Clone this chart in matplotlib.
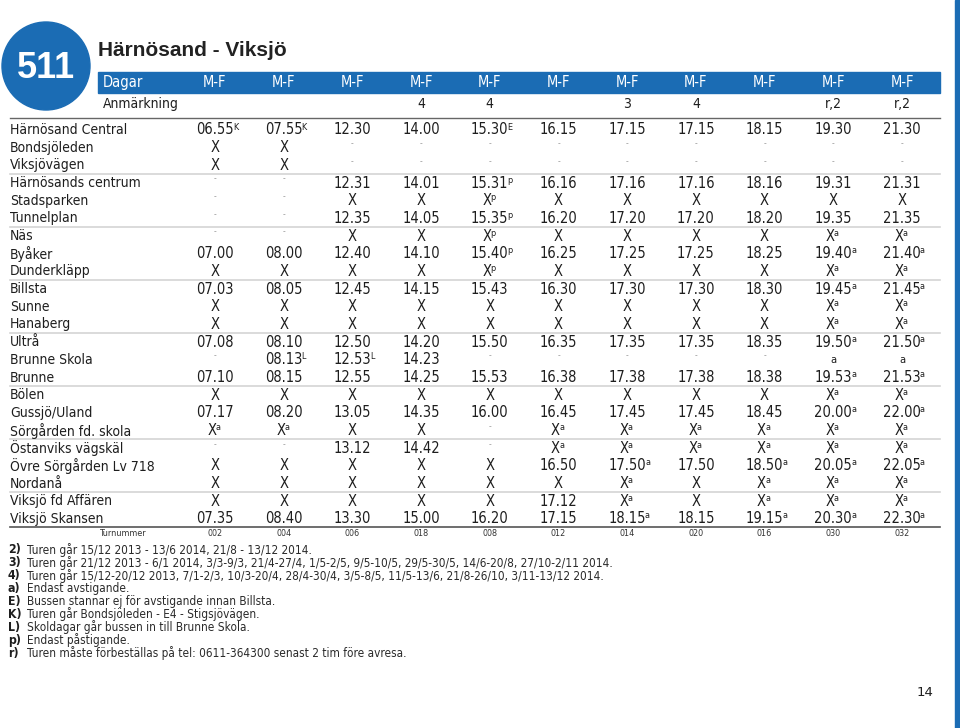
import matplotlib
matplotlib.use("Agg")
import matplotlib.pyplot as plt
from matplotlib.patches import Circle, Rectangle

# --- datos de la tabla ---
linea = "511"
titulo = "Härnösand - Viksjö"
dagar = ["M-F"] * 11
anmarkning = ["", "", "", "4", "4", "", "3", "4", "", "r,2", "r,2"]
turnummer = ["002", "004", "006", "018", "008", "012", "014", "020", "016", "030", "032"]

paradas = ["Härnösand Central", "Bondsjöleden", "Viksjövägen", "Härnösands centrum",
           "Stadsparken", "Tunnelplan", "Näs", "Byåker", "Dunderkläpp", "Billsta",
           "Sunne", "Hanaberg", "Ultrå", "Brunne Skola", "Brunne", "Bölen",
           "Gussjö/Uland", "Sörgården fd. skola", "Östanviks vägskäl",
           "Övre Sörgården Lv 718", "Nordanå", "Viksjö fd Affären", "Viksjö Skansen"]

# "hora|x" = hora con superindice x
tur_002 = ["06.55|K", "X", "X", "-", "-", "-", "-", "07.00", "X", "07.03", "X", "X",
           "07.08", "-", "07.10", "X", "07.17", "X|a", "-", "X", "X", "X", "07.35"]
tur_004 = ["07.55|K", "X", "X", "-", "-", "-", "-", "08.00", "X", "08.05", "X", "X",
           "08.10", "08.13|L", "08.15", "X", "08.20", "X|a", "-", "X", "X", "X", "08.40"]
tur_006 = ["12.30", "-", "-", "12.31", "X", "12.35", "X", "12.40", "X", "12.45", "X", "X",
           "12.50", "12.53|L", "12.55", "X", "13.05", "X", "13.12", "X", "X", "X", "13.30"]
tur_018 = ["14.00", "-", "-", "14.01", "X", "14.05", "X", "14.10", "X", "14.15", "X", "X",
           "14.20", "14.23", "14.25", "X", "14.35", "X", "14.42", "X", "X", "X", "15.00"]
tur_008 = ["15.30|E", "-", "-", "15.31|p", "X|p", "15.35|p", "X|p", "15.40|p", "X|p", "15.43",
           "X", "X", "15.50", "-", "15.53", "X", "16.00", "-", "-", "X", "X", "X", "16.20"]
tur_012 = ["16.15", "-", "-", "16.16", "X", "16.20", "X", "16.25", "X", "16.30", "X", "X",
           "16.35", "-", "16.38", "X", "16.45", "X|a", "X|a", "16.50", "X", "17.12", "17.15"]
tur_014 = ["17.15", "-", "-", "17.16", "X", "17.20", "X", "17.25", "X", "17.30", "X", "X",
           "17.35", "-", "17.38", "X", "17.45", "X|a", "X|a", "17.50|a", "X|a", "X|a", "18.15|a"]
tur_020 = ["17.15", "-", "-", "17.16", "X", "17.20", "X", "17.25", "X", "17.30", "X", "X",
           "17.35", "-", "17.38", "X", "17.45", "X|a", "X|a", "17.50", "X", "X", "18.15"]
tur_016 = ["18.15", "-", "-", "18.16", "X", "18.20", "X", "18.25", "X", "18.30", "X", "X",
           "18.35", "-", "18.38", "X", "18.45", "X|a", "X|a", "18.50|a", "X|a", "X|a", "19.15|a"]
tur_030 = ["19.30", "-", "-", "19.31", "X", "19.35", "X|a", "19.40|a", "X|a", "19.45|a", "X|a",
           "X|a", "19.50|a", "a", "19.53|a", "X|a", "20.00|a", "X|a", "X|a", "20.05|a", "X|a",
           "X|a", "20.30|a"]
tur_032 = ["21.30", "-", "-", "21.31", "X", "21.35", "X|a", "21.40|a", "X|a", "21.45|a", "X|a",
           "X|a", "21.50|a", "a", "21.53|a", "X|a", "22.00|a", "X|a", "X|a", "22.05|a", "X|a",
           "X|a", "22.30|a"]
turer = [tur_002, tur_004, tur_006, tur_018, tur_008, tur_012, tur_014, tur_020,
         tur_016, tur_030, tur_032]

fotnoter = [
    ("2)", "Turen går 15/12 2013 - 13/6 2014, 21/8 - 13/12 2014."),
    ("3)", "Turen går 21/12 2013 - 6/1 2014, 3/3-9/3, 21/4-27/4, 1/5-2/5, 9/5-10/5, 29/5-30/5, 14/6-20/8, 27/10-2/11 2014."),
    ("4)", "Turen går 15/12-20/12 2013, 7/1-2/3, 10/3-20/4, 28/4-30/4, 3/5-8/5, 11/5-13/6, 21/8-26/10, 3/11-13/12 2014."),
    ("a)", "Endast avstigande."),
    ("E)", "Bussen stannar ej för avstigande innan Billsta."),
    ("K)", "Turen går Bondsjöleden - E4 - Stigsjövägen."),
    ("L)", "Skoldagar går bussen in till Brunne Skola."),
    ("p)", "Endast påstigande."),
    ("r)", "Turen måste förbeställas på tel: 0611-364300 senast 2 tim före avresa."),
]
sida = "14"

# --- estilo ---
azul = "#1b6cb4"
texto = "#1e1e1e"
x0_col, paso_col = 215, 68.7
y0_fila, paso_fila = 130, 17.68
fuente = dict(family="DejaVu Sans", fontstretch="condensed")

fig = plt.figure(figsize=(9.6, 7.28), dpi=100)
ax = fig.add_axes([0, 0, 1, 1])
ax.set_xlim(0, 960)
ax.set_ylim(728, 0)
ax.axis("off")
renderer = fig.canvas.get_renderer()

xs = [x0_col + i * paso_col for i in range(len(turer))]
ys = [y0_fila + i * paso_fila for i in range(len(paradas))]

# cabecera
ax.add_patch(Circle((46, 66), 44, color=azul))
ax.text(46, 68, linea, fontsize=26, fontweight="bold", color="white",
        ha="center", va="center", family="Liberation Sans")
ax.text(98, 50, titulo, fontsize=15, fontweight="bold", color="#222222",
        ha="left", va="center", family="Liberation Sans")
ax.add_patch(Rectangle((98, 72), 842, 21, color=azul))
ax.add_patch(Rectangle((955, 0), 5, 728, color=azul))
ax.text(103, 82.5, "Dagar", fontsize=10.5, color="white", ha="left", va="center", **fuente)
for x, d in zip(xs, dagar):
    ax.text(x, 82.5, d, fontsize=10.5, color="white", ha="center", va="center", **fuente)
ax.text(103, 104, "Anmärkning", fontsize=10, color=texto, ha="left", va="center", **fuente)
for x, a in zip(xs, anmarkning):
    ax.text(x, 104, a, fontsize=10, color=texto, ha="center", va="center", **fuente)
ax.plot([10, 940], [118, 118], color="#666666", lw=1.0)

# lineas separadoras cada tres filas
for i in range(2, len(paradas) - 1, 3):
    ym = (ys[i] + ys[i + 1]) / 2
    ax.plot([10, 940], [ym, ym], color="#d4d4d4", lw=1.2)
ax.plot([10, 940], [ys[-1] + 8.5, ys[-1] + 8.5], color="#555555", lw=1.2)


def celda(x, y, valor):
    if valor == "-":
        ax.text(x, y - 4, "-", fontsize=5.5, color="#9a9a9a", ha="center", va="center")
        return
    if valor == "a":
        ax.text(x, y, "a", fontsize=8, color=texto, ha="center", va="center", **fuente)
        return
    base, _, sup = valor.partition("|")
    if base == "X" and sup:
        x -= 3
    t = ax.text(x, y, base, fontsize=10.5, color=texto, ha="center", va="center", **fuente)
    if sup:
        bb = t.get_window_extent(renderer)
        x1 = ax.transData.inverted().transform((bb.x1, bb.y1))[0]
        ax.text(x1 - 1, y - 3, sup, fontsize=6.5, color=texto, ha="left", va="center", **fuente)


for y, p in zip(ys, paradas):
    ax.text(10, y, p, fontsize=10, color=texto, ha="left", va="center", **fuente)
for x, tur in zip(xs, turer):
    for y, v in zip(ys, tur):
        celda(x, y, v)

# turnummer
y_tn = ys[-1] + 15
ax.text(123, y_tn, "Turnummer", fontsize=6.5, color="#333333", ha="center", va="center", **fuente)
for x, n in zip(xs, turnummer):
    ax.text(x, y_tn, n, fontsize=6.5, color="#333333", ha="center", va="center", **fuente)

# fotnoter
for i, (m, t) in enumerate(fotnoter):
    y = 550 + i * 12.9
    ax.text(8, y, m, fontsize=8.8, fontweight="bold", color="#1e1e1e", ha="left", va="center", **fuente)
    ax.text(27, y, t, fontsize=8.5, color="#2a2a2a", ha="left", va="center", **fuente)

ax.text(925, 692, sida, fontsize=9.5, color=texto, ha="center", va="center")

fig.savefig("out.png", dpi=100)
